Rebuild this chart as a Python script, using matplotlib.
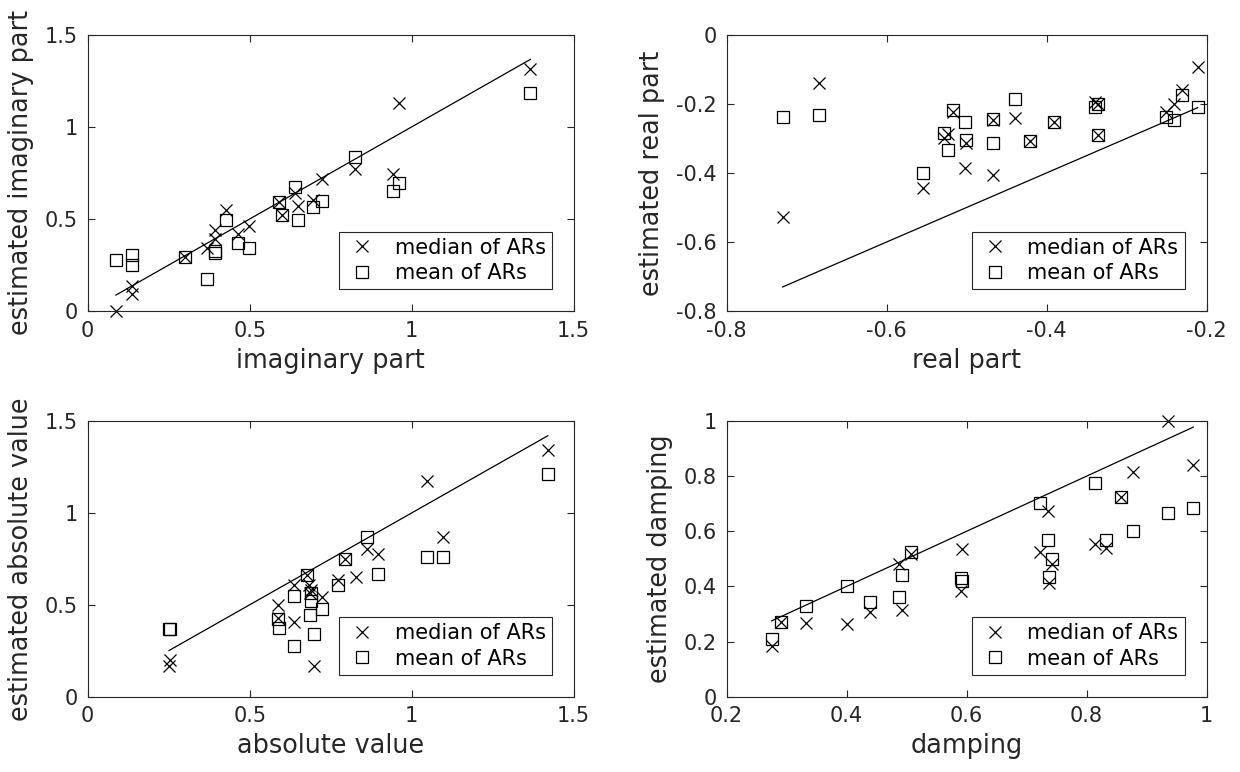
import numpy as np
import matplotlib
matplotlib.use('Agg')
import matplotlib.pyplot as plt

plt.rcParams['font.family'] = ['DejaVu Sans']
plt.rcParams['axes.unicode_minus'] = False

# imaginary part: true value, median of ARs, mean of ARs
imag_x = [0.087, 0.137, 0.137, 0.299, 0.368, 0.392, 0.392, 0.428, 0.464, 0.498,
          0.590, 0.599, 0.639, 0.649, 0.696, 0.724, 0.825, 0.943, 0.961, 1.366]
imag_med = [0.000, 0.137, 0.092, 0.295, 0.343, 0.389, 0.440, 0.551, 0.421, 0.461,
            0.593, 0.521, 0.643, 0.571, 0.602, 0.719, 0.770, 0.746, 1.130, 1.316]
imag_mean = [0.276, 0.307, 0.249, 0.295, 0.177, 0.327, 0.313, 0.493, 0.367, 0.340,
             0.593, 0.521, 0.674, 0.497, 0.566, 0.600, 0.837, 0.651, 0.696, 1.186]

# real part
real_x = [-0.730, -0.685, -0.555, -0.528, -0.523, -0.517, -0.501, -0.502, -0.467, -0.467,
          -0.440, -0.421, -0.391, -0.339, -0.336, -0.336, -0.251, -0.241, -0.231, -0.211]
real_med = [-0.529, -0.140, -0.445, -0.298, -0.286, -0.224, -0.313, -0.386, -0.246, -0.405,
            -0.241, -0.308, -0.254, -0.195, -0.201, -0.291, -0.224, -0.201, -0.161, -0.092]
real_mean = [-0.238, -0.233, -0.400, -0.284, -0.333, -0.217, -0.306, -0.254, -0.243, -0.313,
             -0.187, -0.308, -0.254, -0.209, -0.201, -0.291, -0.238, -0.246, -0.175, -0.209]

# absolute value
abs_x = [0.253, 0.251, 0.588, 0.586, 0.636, 0.637, 0.677, 0.684, 0.688, 0.686,
         0.699, 0.724, 0.771, 0.794, 0.828, 0.861, 0.897, 1.046, 1.096, 1.420]
abs_med = [0.199, 0.167, 0.498, 0.426, 0.607, 0.408, 0.661, 0.607, 0.583, 0.562,
           0.167, 0.540, 0.634, 0.748, 0.649, 0.801, 0.779, 1.172, 0.870, 1.341]
abs_x_mean = [0.252, 0.255, 0.586, 0.590, 0.636, 0.637, 0.677, 0.688, 0.688, 0.685,
              0.699, 0.724, 0.773, 0.794, 0.861, 0.897, 1.046, 1.096, 1.420]
abs_mean = [0.368, 0.368, 0.422, 0.373, 0.549, 0.275, 0.661, 0.562, 0.520, 0.444,
            0.341, 0.476, 0.605, 0.748, 0.870, 0.665, 0.759, 0.761, 1.210]

# damping
damp_x = [0.275, 0.291, 0.333, 0.400, 0.439, 0.487, 0.493, 0.507, 0.592, 0.591,
          0.722, 0.736, 0.737, 0.743, 0.814, 0.832, 0.858, 0.878, 0.936, 0.978]
damp_med = [0.184, 0.272, 0.268, 0.264, 0.306, 0.482, 0.314, 0.518, 0.534, 0.383,
            0.525, 0.675, 0.414, 0.481, 0.554, 0.538, 0.723, 0.816, 1.000, 0.840]
damp_mean = [0.210, 0.272, 0.329, 0.403, 0.343, 0.360, 0.441, 0.525, 0.421, 0.432,
             0.701, 0.568, 0.435, 0.498, 0.774, 0.568, 0.723, 0.601, 0.667, 0.683]

dark = '#262626'
fig = plt.figure(figsize=(12.4, 7.72), dpi=100)


def panel(rect, xm, ym, xs, ys, xlabel, ylabel, lim_x, lim_y, ticks_x, ticks_y):
    ax = fig.add_axes(rect)
    xs_all = np.array(xm)
    lo, hi = xs_all.min(), xs_all.max()
    ax.plot([lo, hi], [lo, hi], color='black', lw=0.9)
    ax.plot(xm, ym, 'x', color='black', ms=8, mew=0.9, clip_on=False,
            label='median of ARs')
    ax.plot(xs, ys, 's', mfc='none', mec='black', ms=8, mew=0.9, clip_on=False,
            label='mean of ARs')
    ax.set_xlim(lim_x)
    ax.set_ylim(lim_y)
    ax.set_xticks(ticks_x)
    ax.set_yticks(ticks_y)
    ax.set_xticklabels(['%g' % t for t in ticks_x])
    ax.set_yticklabels(['%g' % t for t in ticks_y])
    ax.tick_params(direction='in', top=True, right=True, length=5, width=0.8,
                   labelsize=15, colors=dark, pad=7)
    for s in ax.spines.values():
        s.set_color(dark)
        s.set_linewidth(0.8)
    ax.set_xlabel(xlabel, fontsize=18.4, color=dark, labelpad=5)
    ax.set_ylabel(ylabel, fontsize=18.4, color=dark, labelpad=8)
    h, l = ax.get_legend_handles_labels()
    leg = ax.legend(h, l, loc='lower right', fontsize=15, fancybox=False,
                    edgecolor=dark, framealpha=1, borderaxespad=1.05,
                    handlelength=1.6, handletextpad=0.75, borderpad=0.3,
                    labelspacing=0.25)
    leg.get_frame().set_linewidth(0.8)
    return ax


panel([0.0707, 0.597, 0.392, 0.358], imag_x, imag_med, imag_x, imag_mean,
      'imaginary part', 'estimated imaginary part', (0, 1.5), (0, 1.5),
      [0, 0.5, 1, 1.5], [0, 0.5, 1, 1.5])
panel([0.586, 0.597, 0.387, 0.358], real_x, real_med, real_x, real_mean,
      'real part', 'estimated real part', (-0.8, -0.2), (-0.8, 0),
      [-0.8, -0.6, -0.4, -0.2], [-0.8, -0.6, -0.4, -0.2, 0])
panel([0.0707, 0.0976, 0.392, 0.357], abs_x, abs_med, abs_x_mean, abs_mean,
      'absolute value', 'estimated absolute value', (0, 1.5), (0, 1.5),
      [0, 0.5, 1, 1.5], [0, 0.5, 1, 1.5])
panel([0.586, 0.0976, 0.387, 0.357], damp_x, damp_med, damp_x, damp_mean,
      'damping', 'estimated damping', (0.2, 1), (0, 1),
      [0.2, 0.4, 0.6, 0.8, 1], [0, 0.2, 0.4, 0.6, 0.8, 1])

fig.savefig('out.png', dpi=100)
